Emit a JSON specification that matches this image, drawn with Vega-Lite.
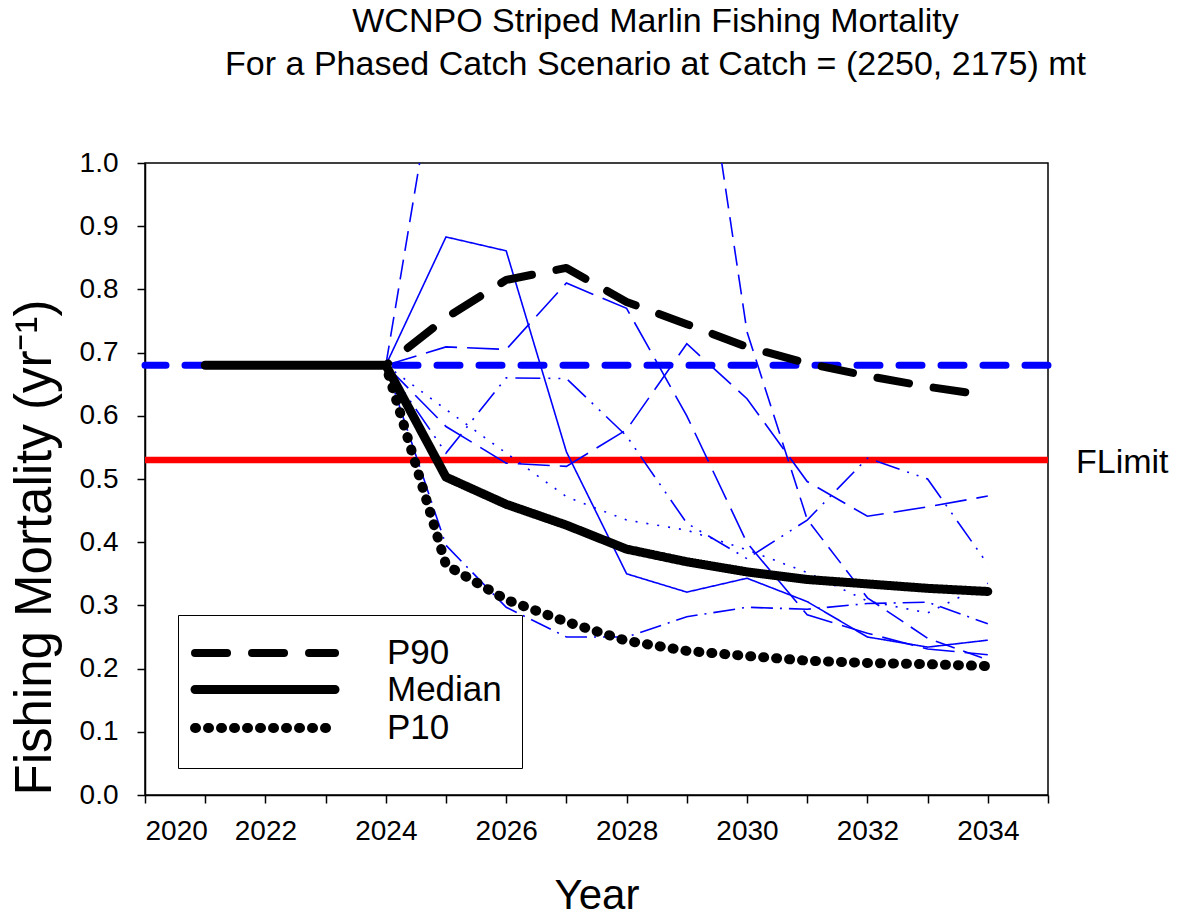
{
  "$schema": "https://vega.github.io/schema/vega-lite/v6.json",
  "autosize": {"type": "none"},
  "width": 903,
  "height": 632,
  "padding": {"left": 145, "top": 163, "right": 132, "bottom": 122},
  "background": "white",
  "config": {
    "font": "Liberation Sans",
    "view": {"stroke": "black", "strokeWidth": 1.5},
    "axis": {"grid": false, "domainColor": "black", "domainWidth": 1.5, "tickColor": "black", "tickWidth": 1.5, "labelColor": "black", "titleColor": "black", "labelFont": "Liberation Sans", "titleFont": "Liberation Sans", "titleFontWeight": "normal"},
    "legend": {"labelFont": "Liberation Sans"}
  },
  "title": {
    "text": ["WCNPO Striped Marlin Fishing Mortality", "For a Phased Catch Scenario at Catch = (2250, 2175) mt"],
    "fontSize": 34,
    "fontWeight": "normal",
    "font": "Liberation Sans",
    "color": "black",
    "anchor": "middle",
    "dx": 59,
    "offset": 67,
    "lineHeight": 43
  },
  "datasets": {
    "iters": [
      {"year": 2024, "F": 0.68, "run": "it1"}, {"year": 2025, "F": 0.883, "run": "it1"}, {"year": 2026, "F": 0.861, "run": "it1"}, {"year": 2027, "F": 0.543, "run": "it1"}, {"year": 2028, "F": 0.35, "run": "it1"}, {"year": 2029, "F": 0.321, "run": "it1"}, {"year": 2030, "F": 0.343, "run": "it1"}, {"year": 2031, "F": 0.306, "run": "it1"}, {"year": 2032, "F": 0.25, "run": "it1"}, {"year": 2033, "F": 0.234, "run": "it1"}, {"year": 2034, "F": 0.245, "run": "it1"},
      {"year": 2024, "F": 0.68, "run": "it2"}, {"year": 2025, "F": 0.709, "run": "it2"}, {"year": 2026, "F": 0.705, "run": "it2"}, {"year": 2027, "F": 0.81, "run": "it2"}, {"year": 2028, "F": 0.77, "run": "it2"}, {"year": 2029, "F": 0.6, "run": "it2"}, {"year": 2030, "F": 0.399, "run": "it2"}, {"year": 2031, "F": 0.285, "run": "it2"}, {"year": 2032, "F": 0.256, "run": "it2"}, {"year": 2033, "F": 0.231, "run": "it2"}, {"year": 2034, "F": 0.222, "run": "it2"},
      {"year": 2024, "F": 0.68, "run": "it3"}, {"year": 2025, "F": 1.25, "run": "it3"}, {"year": 2026, "F": 1.5, "run": "it3"}, {"year": 2027, "F": 1.6, "run": "it3"}, {"year": 2028, "F": 1.5, "run": "it3"}, {"year": 2029, "F": 1.37, "run": "it3"}, {"year": 2030, "F": 0.733, "run": "it3"}, {"year": 2031, "F": 0.436, "run": "it3"}, {"year": 2032, "F": 0.312, "run": "it3"}, {"year": 2033, "F": 0.248, "run": "it3"}, {"year": 2034, "F": 0.214, "run": "it3"},
      {"year": 2024, "F": 0.68, "run": "it4"}, {"year": 2025, "F": 0.583, "run": "it4"}, {"year": 2026, "F": 0.525, "run": "it4"}, {"year": 2027, "F": 0.52, "run": "it4"}, {"year": 2028, "F": 0.578, "run": "it4"}, {"year": 2029, "F": 0.714, "run": "it4"}, {"year": 2030, "F": 0.627, "run": "it4"}, {"year": 2031, "F": 0.496, "run": "it4"}, {"year": 2032, "F": 0.441, "run": "it4"}, {"year": 2033, "F": 0.456, "run": "it4"}, {"year": 2034, "F": 0.473, "run": "it4"},
      {"year": 2024, "F": 0.68, "run": "it5"}, {"year": 2025, "F": 0.541, "run": "it5"}, {"year": 2026, "F": 0.66, "run": "it5"}, {"year": 2027, "F": 0.659, "run": "it5"}, {"year": 2028, "F": 0.568, "run": "it5"}, {"year": 2029, "F": 0.43, "run": "it5"}, {"year": 2030, "F": 0.374, "run": "it5"}, {"year": 2031, "F": 0.435, "run": "it5"}, {"year": 2032, "F": 0.533, "run": "it5"}, {"year": 2033, "F": 0.5, "run": "it5"}, {"year": 2034, "F": 0.365, "run": "it5"},
      {"year": 2024, "F": 0.68, "run": "it6"}, {"year": 2025, "F": 0.61, "run": "it6"}, {"year": 2026, "F": 0.541, "run": "it6"}, {"year": 2027, "F": 0.472, "run": "it6"}, {"year": 2028, "F": 0.435, "run": "it6"}, {"year": 2029, "F": 0.419, "run": "it6"}, {"year": 2030, "F": 0.388, "run": "it6"}, {"year": 2031, "F": 0.352, "run": "it6"}, {"year": 2032, "F": 0.307, "run": "it6"}, {"year": 2033, "F": 0.288, "run": "it6"}, {"year": 2034, "F": 0.335, "run": "it6"},
      {"year": 2024, "F": 0.68, "run": "it7"}, {"year": 2025, "F": 0.395, "run": "it7"}, {"year": 2026, "F": 0.297, "run": "it7"}, {"year": 2027, "F": 0.25, "run": "it7"}, {"year": 2028, "F": 0.25, "run": "it7"}, {"year": 2029, "F": 0.282, "run": "it7"}, {"year": 2030, "F": 0.297, "run": "it7"}, {"year": 2031, "F": 0.294, "run": "it7"}, {"year": 2032, "F": 0.303, "run": "it7"}, {"year": 2033, "F": 0.305, "run": "it7"}, {"year": 2034, "F": 0.271, "run": "it7"}
    ],
    "stats": [
      {"year": 2024, "F": 0.68, "series": "P90"}, {"year": 2025, "F": 0.755, "series": "P90"}, {"year": 2026, "F": 0.815, "series": "P90"}, {"year": 2027, "F": 0.834, "series": "P90"}, {"year": 2028, "F": 0.78, "series": "P90"}, {"year": 2029, "F": 0.745, "series": "P90"}, {"year": 2030, "F": 0.709, "series": "P90"}, {"year": 2031, "F": 0.683, "series": "P90"}, {"year": 2032, "F": 0.663, "series": "P90"}, {"year": 2033, "F": 0.646, "series": "P90"}, {"year": 2034, "F": 0.632, "series": "P90"},
      {"year": 2024, "F": 0.68, "series": "P10"}, {"year": 2025, "F": 0.364, "series": "P10"}, {"year": 2026, "F": 0.309, "series": "P10"}, {"year": 2027, "F": 0.274, "series": "P10"}, {"year": 2028, "F": 0.244, "series": "P10"}, {"year": 2029, "F": 0.228, "series": "P10"}, {"year": 2030, "F": 0.22, "series": "P10"}, {"year": 2031, "F": 0.2125, "series": "P10"}, {"year": 2032, "F": 0.209, "series": "P10"}, {"year": 2033, "F": 0.207, "series": "P10"}, {"year": 2034, "F": 0.204, "series": "P10"},
      {"year": 2021, "F": 0.68, "series": "Median"}, {"year": 2022, "F": 0.68, "series": "Median"}, {"year": 2023, "F": 0.68, "series": "Median"}, {"year": 2024, "F": 0.68, "series": "Median"}, {"year": 2025, "F": 0.503, "series": "Median"}, {"year": 2026, "F": 0.46, "series": "Median"}, {"year": 2027, "F": 0.427, "series": "Median"}, {"year": 2028, "F": 0.389, "series": "Median"}, {"year": 2029, "F": 0.369, "series": "Median"}, {"year": 2030, "F": 0.353, "series": "Median"}, {"year": 2031, "F": 0.341, "series": "Median"}, {"year": 2032, "F": 0.334, "series": "Median"}, {"year": 2033, "F": 0.327, "series": "Median"}, {"year": 2034, "F": 0.322, "series": "Median"}
    ],
    "refs": [
      {"F": 0.53, "ref": "FLimit", "label": "FLimit"},
      {"F": 0.68, "ref": "FTarget", "label": ""}
    ]
  },
  "layer": [
    {
      "data": {"name": "refs"},
      "transform": [{"filter": "datum.ref == 'FLimit'"}],
      "mark": {"type": "rule", "color": "#ff0000", "strokeWidth": 6.5},
      "encoding": {"y": {"field": "F", "type": "quantitative"}}
    },
    {
      "data": {"name": "refs"},
      "transform": [{"filter": "datum.ref == 'FLimit'"}],
      "mark": {"type": "text", "align": "left", "baseline": "middle", "dx": 28, "dy": 3, "fontSize": 34, "font": "Liberation Sans", "color": "black"},
      "encoding": {"y": {"field": "F", "type": "quantitative"}, "x": {"datum": 2035, "type": "quantitative"}, "text": {"field": "label"}}
    },
    {
      "data": {"name": "refs"},
      "transform": [{"filter": "datum.ref == 'FTarget'"}],
      "mark": {"type": "rule", "color": "#0000ff", "strokeWidth": 7, "strokeDash": [23, 19], "strokeCap": "round"},
      "encoding": {"y": {"field": "F", "type": "quantitative"}}
    },
    {
      "data": {"name": "iters"},
      "mark": {"type": "line", "color": "#0000ff", "strokeWidth": 1.6, "clip": true},
      "encoding": {
        "x": {"field": "year", "type": "quantitative"},
        "y": {"field": "F", "type": "quantitative"},
        "detail": {"field": "run"},
        "strokeDash": {"field": "run", "type": "nominal", "legend": null,
          "scale": {"domain": ["it1", "it2", "it3", "it4", "it5", "it6", "it7"],
                    "range": [[1, 0], [32, 10], [20, 9], [32, 10], [25, 8, 2, 8, 2, 8], [2, 9], [22, 7, 2, 7]]}}
      }
    },
    {
      "data": {"name": "stats"},
      "mark": {"type": "line", "color": "black", "strokeCap": "round", "strokeJoin": "round", "strokeDashOffset": 29},
      "encoding": {
        "x": {"field": "year", "type": "quantitative",
          "scale": {"domain": [2020, 2035], "nice": false, "zero": false},
          "axis": {"values": [2020, 2021, 2022, 2023, 2024, 2025, 2026, 2027, 2028, 2029, 2030, 2031, 2032, 2033, 2034, 2035],
                   "labelExpr": "datum.value % 2 == 0 ? datum.label : ''", "format": "d",
                   "tickSize": 8, "labelFontSize": 28, "labelPadding": 14, "title": "Year", "titleFontSize": 42, "titlePadding": 30}},
        "y": {"field": "F", "type": "quantitative",
          "scale": {"domain": [0, 1], "nice": false},
          "axis": {"values": [0, 0.05, 0.1, 0.15, 0.2, 0.25, 0.3, 0.35, 0.4, 0.45, 0.5, 0.55, 0.6, 0.65, 0.7, 0.75, 0.8, 0.85, 0.9, 0.95, 1.0],
                   "labelExpr": "round(datum.value * 20) % 2 == 0 ? format(datum.value, '.1f') : ''",
                   "tickSize": 8, "labelFontSize": 28, "labelPadding": 19, "title": "Fishing Mortality (yr⁻¹)", "titleFontSize": 51, "titleAnchor": "start", "titlePadding": 18}},
        "detail": {"field": "series"},
        "strokeDash": {"field": "series", "type": "nominal",
          "scale": {"domain": ["P90", "Median", "P10"], "range": [[32, 25], [1, 0], [1, 12]]},
          "legend": {"title": null, "orient": "none", "legendX": 33, "legendY": 452, "symbolType": "M-1.57,0H8.43", "symbolSize": 784, "labelFontSize": 35, "labelOffset": 151, "strokeColor": "black", "padding": 20, "symbolStrokeColor": "black", "rowPadding": 0,
                     "encoding": {"symbols": {"strokeCap": {"value": "round"}, "strokeDashOffset": {"value": 0}}}}},
        "strokeWidth": {"field": "series", "type": "nominal",
          "scale": {"domain": ["P90", "Median", "P10"], "range": [8, 10, 6.5]},
          "legend": {"title": null, "orient": "none", "legendX": 33, "legendY": 452, "symbolType": "M-1.57,0H8.43", "symbolSize": 784, "labelFontSize": 35, "labelOffset": 151, "strokeColor": "black", "padding": 20, "symbolStrokeColor": "black", "rowPadding": 0,
                     "encoding": {"symbols": {"strokeCap": {"value": "round"}, "strokeDashOffset": {"value": 0}}}}}
      }
    }
  ],
  "resolve": {"scale": {"strokeDash": "independent", "strokeWidth": "independent"}}
}
